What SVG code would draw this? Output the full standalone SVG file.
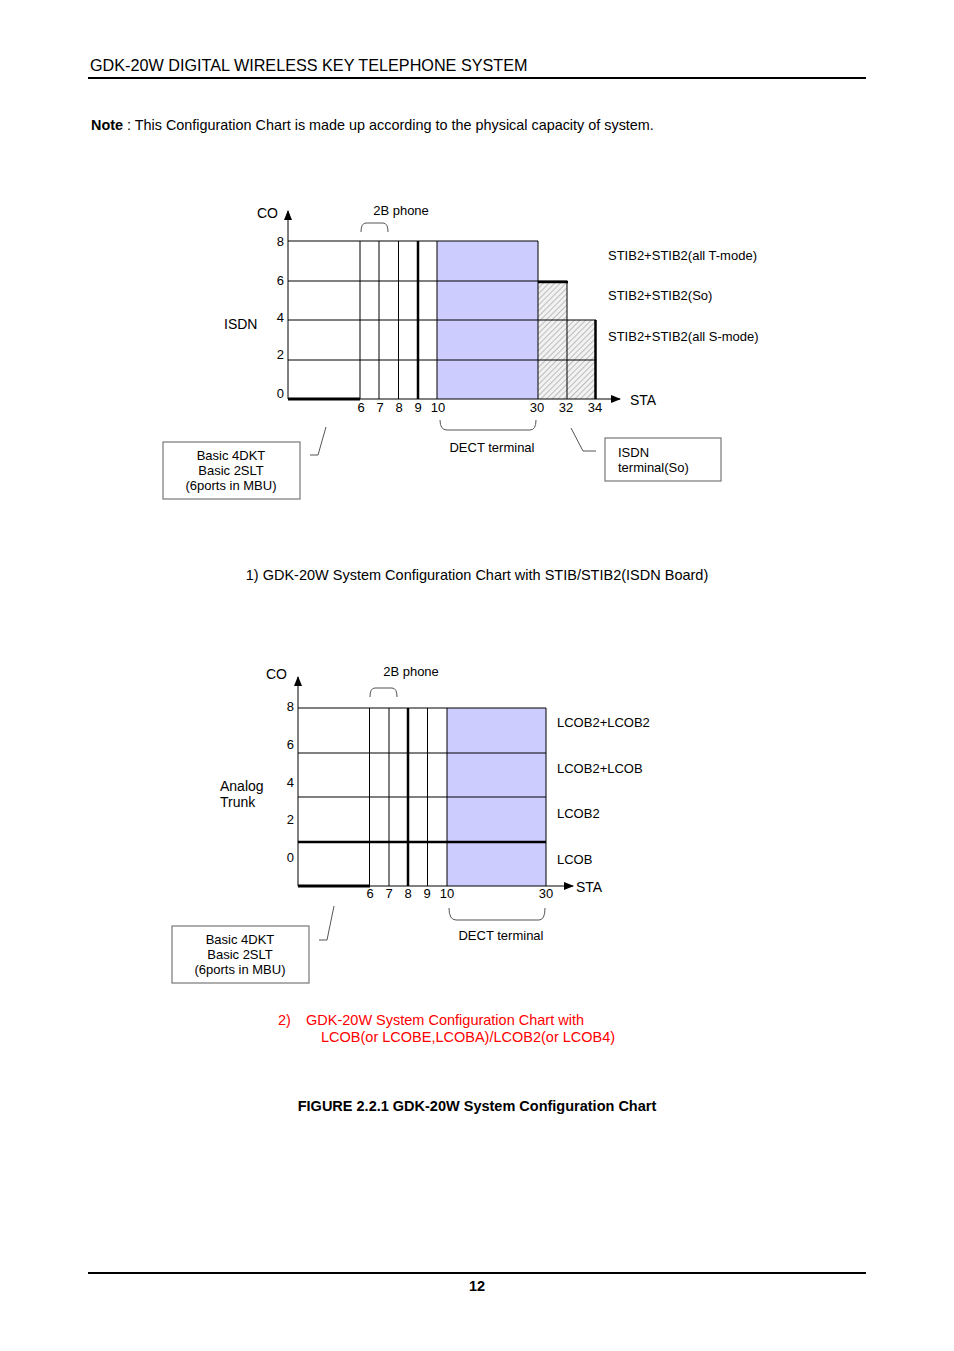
<svg xmlns="http://www.w3.org/2000/svg" width="954" height="1351" viewBox="0 0 954 1351">
<style>
text{font-family:"Liberation Sans",Arial,sans-serif;fill:#000}
.t13{font-size:13px}
.t14{font-size:14px}
.t12{font-size:12.5px}
.g{stroke:#000;stroke-width:1;fill:none}
.th{stroke:#000;stroke-width:3;fill:none}
.br{stroke:#555;stroke-width:1;fill:none}
.box{fill:#fff;stroke:#777;stroke-width:1.2}
.blue{fill:#ccccff}
.red{fill:#ff0000;font-size:14.5px}
</style>
<defs>
<pattern id="hatch" width="4" height="4" patternUnits="userSpaceOnUse" patternTransform="rotate(45)">
<rect width="4" height="4" fill="#f2f2f2"/>
<line x1="0" y1="0" x2="0" y2="4" stroke="#999" stroke-width="1.2"/>
</pattern>
<marker id="arr" markerWidth="10" markerHeight="10" refX="9" refY="5" orient="auto" markerUnits="userSpaceOnUse">
<path d="M0,1 L10,5 L0,9 Z" fill="#000"/>
</marker>
</defs>

<g id="header">
<text x="90" y="71" font-size="16.2">GDK-20W DIGITAL WIRELESS KEY TELEPHONE SYSTEM</text>
<line x1="88" y1="78" x2="866" y2="78" stroke="#000" stroke-width="2"/>
<text x="91" y="130" font-size="14.4"><tspan font-weight="bold">Note</tspan> : This Configuration Chart is made up according to the physical capacity of system.</text>
</g>

<!-- Chart 1 -->
<g id="chart1">
<rect class="blue" x="437" y="241" width="101" height="158"/>
<rect x="538" y="281" width="29" height="118" fill="url(#hatch)"/>
<rect x="567" y="320" width="29" height="79" fill="url(#hatch)"/>
<g class="g">
<line x1="288" y1="241" x2="538" y2="241"/>
<line x1="288" y1="281" x2="567" y2="281"/>
<line x1="288" y1="320" x2="596" y2="320"/>
<line x1="288" y1="360" x2="596" y2="360"/>
<line x1="360" y1="241" x2="360" y2="399"/>
<line x1="379" y1="241" x2="379" y2="399"/>
<line x1="398.5" y1="241" x2="398.5" y2="399"/>
<line x1="437" y1="241" x2="437" y2="399"/>
<line x1="538" y1="241" x2="538" y2="399"/>
<line x1="567" y1="281" x2="567" y2="399"/>
<line x1="288" y1="399" x2="620" y2="399" marker-end="url(#arr)"/>
<line x1="288" y1="399" x2="288" y2="211" marker-end="url(#arr)"/>
</g>
<line x1="418" y1="241" x2="418" y2="399" stroke="#000" stroke-width="2.5"/>
<line x1="538" y1="282" x2="568" y2="282" stroke="#000" stroke-width="2.5"/>
<line x1="595.5" y1="320" x2="595.5" y2="399" stroke="#000" stroke-width="2.5"/>
<line x1="288" y1="399" x2="360" y2="399" stroke="#000" stroke-width="3"/>
<text class="t14" x="257" y="218">CO</text>
<text class="t14" x="224" y="329">ISDN</text>
<g class="t13" text-anchor="end">
<text x="284" y="246">8</text>
<text x="284" y="285">6</text>
<text x="284" y="322">4</text>
<text x="284" y="359">2</text>
<text x="284" y="398">0</text>
</g>
<g class="t13" text-anchor="middle">
<text x="361" y="412">6</text>
<text x="380" y="412">7</text>
<text x="399" y="412">8</text>
<text x="418" y="412">9</text>
<text x="438" y="412">10</text>
<text x="537" y="412">30</text>
<text x="566" y="412">32</text>
<text x="595" y="412">34</text>
</g>
<text class="t14" x="630" y="405">STA</text>
<text class="t13" x="401" y="215" text-anchor="middle">2B phone</text>
<path class="br" d="M361,232 Q361,223 366,223 L383,223 Q388,223 388,232"/>
<path class="br" d="M440,420 Q440,430 447,430 L530,430 Q536,430 536,420"/>
<text class="t13" x="492" y="452" text-anchor="middle">DECT terminal</text>
<text class="t13" x="608" y="260">STIB2+STIB2(all T-mode)</text>
<text class="t13" x="608" y="300">STIB2+STIB2(So)</text>
<text class="t13" x="608" y="341">STIB2+STIB2(all S-mode)</text>
</g>

<g id="box1">
<rect class="box" x="163" y="442" width="137" height="57"/>
<text class="t13" x="231" y="460" text-anchor="middle">Basic 4DKT</text>
<text class="t13" x="231" y="475" text-anchor="middle">Basic 2SLT</text>
<text class="t13" x="231" y="490" text-anchor="middle">(6ports in MBU)</text>
</g>
<g id="box2">
<rect class="box" x="605" y="438" width="116" height="43"/>
<text class="t13" x="618" y="457">ISDN</text>
<text class="t13" x="618" y="472">terminal(So)</text>
</g>

<g id="connectors">
<polyline class="br" points="310,455 318,455 326,427"/>
<polyline class="br" points="571,428 583,451 596,451"/>
<polyline class="br" points="319,940 327,940 334,906"/>
</g>

<text id="caption1" x="477" y="580" font-size="14.5" text-anchor="middle">1) GDK-20W System Configuration Chart with STIB/STIB2(ISDN Board)</text>

<!-- Chart 2 -->
<g id="chart2">
<rect class="blue" x="447" y="708" width="99" height="178"/>
<g class="g">
<line x1="298" y1="708" x2="546" y2="708"/>
<line x1="298" y1="753" x2="546" y2="753"/>
<line x1="298" y1="797" x2="546" y2="797"/>
<line x1="369.5" y1="708" x2="369.5" y2="886"/>
<line x1="389" y1="708" x2="389" y2="886"/>
<line x1="427.5" y1="708" x2="427.5" y2="886"/>
<line x1="447" y1="708" x2="447" y2="886"/>
<line x1="546" y1="708" x2="546" y2="886"/>
<line x1="298" y1="886" x2="573" y2="886" marker-end="url(#arr)"/>
<line x1="298" y1="886" x2="298" y2="677" marker-end="url(#arr)"/>
</g>
<line x1="298" y1="842" x2="546" y2="842" stroke="#000" stroke-width="2.5"/>
<line x1="408" y1="708" x2="408" y2="886" stroke="#000" stroke-width="2.5"/>
<line x1="298" y1="886" x2="370" y2="886" stroke="#000" stroke-width="3"/>
<text class="t14" x="266" y="679">CO</text>
<text class="t14" x="220" y="791">Analog</text>
<text class="t14" x="220" y="807">Trunk</text>
<g class="t13" text-anchor="end">
<text x="294" y="711">8</text>
<text x="294" y="749">6</text>
<text x="294" y="787">4</text>
<text x="294" y="824">2</text>
<text x="294" y="862">0</text>
</g>
<g class="t13" text-anchor="middle">
<text x="370" y="898">6</text>
<text x="389" y="898">7</text>
<text x="408" y="898">8</text>
<text x="427" y="898">9</text>
<text x="447" y="898">10</text>
<text x="546" y="898">30</text>
</g>
<text class="t14" x="576" y="892">STA</text>
<text class="t13" x="411" y="676" text-anchor="middle">2B phone</text>
<path class="br" d="M370,697 Q370,688 375,688 L392,688 Q397,688 397,697"/>
<path class="br" d="M449,908 Q449,920 456,920 L539,920 Q545,920 545,908"/>
<text class="t13" x="501" y="940" text-anchor="middle">DECT terminal</text>
<text class="t13" x="557" y="727">LCOB2+LCOB2</text>
<text class="t13" x="557" y="773">LCOB2+LCOB</text>
<text class="t13" x="557" y="818">LCOB2</text>
<text class="t13" x="557" y="864">LCOB</text>
</g>

<g id="box3">
<rect class="box" x="172" y="926" width="137" height="57"/>
<text class="t13" x="240" y="944" text-anchor="middle">Basic 4DKT</text>
<text class="t13" x="240" y="959" text-anchor="middle">Basic 2SLT</text>
<text class="t13" x="240" y="974" text-anchor="middle">(6ports in MBU)</text>
</g>

<g id="caption2">
<text class="red" x="278" y="1025">2)</text>
<text class="red" x="306" y="1025">GDK-20W System Configuration Chart with</text>
<text class="red" x="321" y="1042">LCOB(or LCOBE,LCOBA)/LCOB2(or LCOB4)</text>
</g>

<text id="figcaption" x="477" y="1111" font-size="14.5" font-weight="bold" text-anchor="middle">FIGURE 2.2.1 GDK-20W System Configuration Chart</text>

<g id="footer">
<line x1="88" y1="1273" x2="866" y2="1273" stroke="#000" stroke-width="2"/>
<text x="477" y="1291" font-size="14.5" font-weight="bold" text-anchor="middle">12</text>
</g>
</svg>
